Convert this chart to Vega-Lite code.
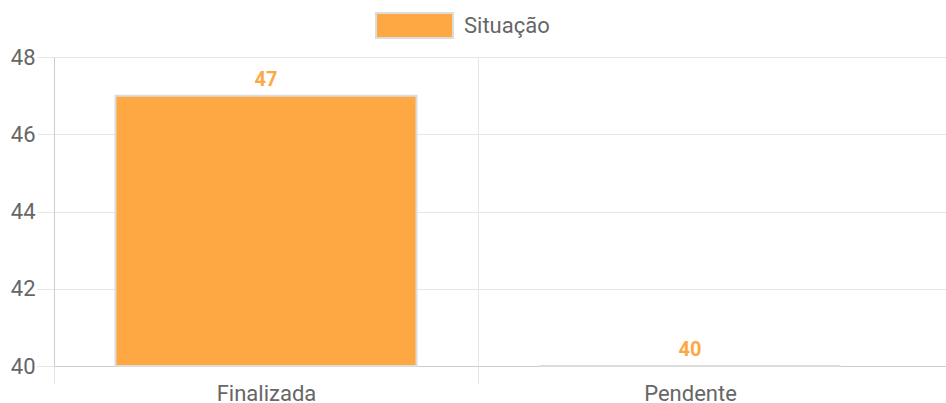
{
  "$schema": "https://vega.github.io/schema/vega-lite/v6.json",
  "width": 892,
  "height": 309,
  "autosize": {"type": "none"},
  "padding": {"left": 54, "top": 57, "right": 0, "bottom": 37},
  "background": "white",
  "config": {"view": {"stroke": null}, "font": "Roboto"},
  "data": {
    "values": [
      {"situacao": "Finalizada", "valor": 47, "serie": "Situação"},
      {"situacao": "Pendente", "valor": 40, "serie": "Situação"}
    ]
  },
  "encoding": {
    "x": {
      "field": "situacao",
      "type": "nominal",
      "sort": null,
      "scale": {"paddingInner": 0, "paddingOuter": 0.0519, "align": 0},
      "axis": {
        "title": null,
        "domain": false,
        "labelAngle": 0,
        "tickBand": "extent",
        "grid": true,
        "gridColor": "#e6e6e6",
        "tickColor": "#e6e6e6",
        "tickSize": 17,
        "labelFontSize": 22,
        "labelColor": "#666666",
        "labelPadding": 0,
        "tickOpacity": {"condition": {"test": "datum.value === 'Pendente'", "value": 0}, "value": 1},
        "gridOpacity": {"condition": {"test": "datum.value === 'Pendente'", "value": 0}, "value": 1}
      }
    }
  },
  "layer": [
    {
      "mark": {"type": "bar", "width": {"band": 0.71}, "stroke": "#dcdcdc", "strokeWidth": 2},
      "encoding": {
        "y": {
          "field": "valor",
          "type": "quantitative",
          "scale": {"domain": [40, 48], "zero": false, "nice": false},
          "axis": {
            "title": null,
            "values": [40, 42, 44, 46, 48],
            "grid": true,
            "gridColor": {"condition": {"test": "datum.value === 40", "value": "#cccccc"}, "value": "#e6e6e6"},
            "domainColor": "#cccccc",
            "tickColor": "#e6e6e6",
            "tickSize": 17,
            "labelFontSize": 22,
            "labelColor": "#666666",
            "labelPadding": 2
          }
        },
        "y2": {"datum": 40},
        "color": {
          "field": "serie",
          "type": "nominal",
          "scale": {"range": ["#fea843"]},
          "legend": {
            "orient": "none",
            "legendX": 321,
            "legendY": -71,
            "title": null,
            "symbolType": "M-1,-0.325H1V0.325H-1Z",
            "symbolSize": 5929,
            "symbolStrokeColor": "#dcdcdc",
            "symbolStrokeWidth": 2,
            "symbolOpacity": 1,
            "labelFontSize": 22,
            "labelColor": "#666666",
            "labelOffset": 10
          }
        }
      }
    },
    {
      "mark": {"type": "text", "dy": -10, "baseline": "alphabetic", "fontSize": 20, "fontWeight": "bold", "color": "#fea843"},
      "encoding": {
        "y": {"field": "valor", "type": "quantitative"},
        "text": {"field": "valor", "type": "quantitative"}
      }
    }
  ]
}
